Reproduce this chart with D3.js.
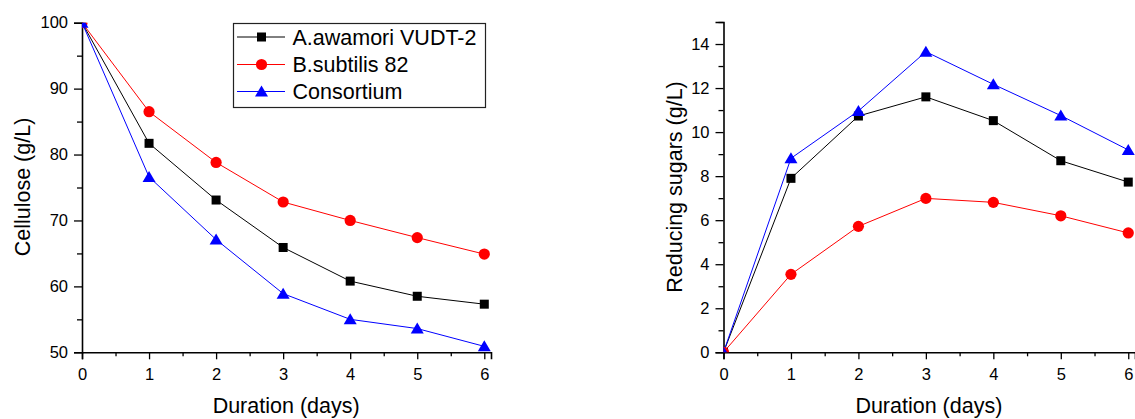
<!DOCTYPE html>
<html>
<head>
<meta charset="utf-8">
<script src="https://cdn.jsdelivr.net/npm/d3@7"></script>
<style>
	body { margin: 0; background: #fff; }
	svg { display: block; font-family: 'Liberation Sans', Arial, sans-serif; }
</style>
</head>
<body>
<svg id="chart" width="1135" height="419"></svg>
<script>
'use strict'

var days = [0, 1, 2, 3, 4, 5, 6];
var seriesNames = ['A.awamori VUDT-2', 'B.subtilis 82', 'Consortium'];
var seriesColors = ['#000000', '#ff0000', '#0000ff'];
var seriesShapes = ['square', 'circle', 'triangle'];

// cellulose (g/L)
var celluloseA = [100, 81.7, 73.1, 65.9, 60.8, 58.5, 57.3];
var celluloseB = [100, 86.5, 78.8, 72.8, 70.0, 67.4, 64.9];
var celluloseC = [100, 76.6, 67.1, 58.9, 55.0, 53.6, 50.9];

// reducing sugars (g/L)
var sugarsA = [0, 7.9, 10.73, 11.6, 10.52, 8.7, 7.73];
var sugarsB = [0, 3.54, 5.72, 6.99, 6.81, 6.2, 5.42];
var sugarsC = [0, 8.81, 10.96, 13.65, 12.17, 10.75, 9.19];

var xTicks = [0, 1, 2, 3, 4, 5, 6];
var xMinorTicks = [0.5, 1.5, 2.5, 3.5, 4.5, 5.5];
var celluloseTicks = [50, 60, 70, 80, 90, 100];
var celluloseMinor = [55, 65, 75, 85, 95];
var sugarsTicks = [0, 2, 4, 6, 8, 10, 12, 14];
var sugarsMinor = [1, 3, 5, 7, 9, 11, 13, 15];

var svg = d3.select('#chart');

function marker(g, shape, color, x, y){
	if(shape === 'square')
		g.append('rect').attr('x', x-4.5).attr('y', y-4.5)
			.attr('width', 9).attr('height', 9).attr('fill', color);
	else if(shape === 'circle')
		g.append('circle').attr('cx', x).attr('cy', y).attr('r', 5.6).attr('fill', color);
	else
		g.append('path')
			.attr('d', `M${x},${y-6}L${x+6.5},${y+5}L${x-6.5},${y+5}Z`)
			.attr('fill', color);
}

function drawPanel(opt){
	var x = d3.scaleLinear().domain([0, 6.1]).range([opt.left, opt.right]);
	var y = d3.scaleLinear().domain(opt.yDomain).range([352.3, opt.top]);

	var g = svg.append('g');

	// x axis
	var xa = g.append('g').attr('transform', 'translate(0,352.3)');
	xa.call(d3.axisBottom(x).tickValues(xTicks).tickSize(7).tickPadding(9).tickFormat(d3.format('d')));
	xa.append('g').call(d3.axisBottom(x).tickValues(xMinorTicks).tickSize(4).tickFormat(''))
		.select('.domain').remove();

	// y axis
	var ya = g.append('g').attr('transform', `translate(${opt.left},0)`);
	ya.call(d3.axisLeft(y).tickValues(opt.yTicks).tickSize(8).tickPadding(6).tickFormat(d3.format('d')));
	ya.append('g').call(d3.axisLeft(y).tickValues(opt.yMinor).tickSize(5).tickFormat(''))
		.select('.domain').remove();

	g.selectAll('.domain').attr('stroke', '#000').attr('stroke-width', 1.6);
	g.selectAll('.tick line').attr('stroke', '#000').attr('stroke-width', 1.3);
	g.selectAll('.tick text').attr('font-size', 16.5).attr('fill', '#000')
		.attr('font-family', "'Liberation Sans', Arial, sans-serif");

	// titles
	g.append('text')
		.attr('x', (opt.left + x(6)) / 2 + 3).attr('y', 413)
		.attr('text-anchor', 'middle').attr('font-size', 21.5)
		.text('Duration (days)');
	g.append('text')
		.attr('transform', `translate(${opt.titleX},187) rotate(-90)`)
		.attr('text-anchor', 'middle').attr('font-size', 21.5)
		.text(opt.yTitle);

	// clip markers to the frame (left / bottom)
	var clipId = 'clip' + opt.left;
	svg.append('clipPath').attr('id', clipId)
		.append('rect').attr('x', opt.left).attr('y', y(opt.yDomain[1]))
		.attr('width', 1135 - opt.left).attr('height', 352.3 - y(opt.yDomain[1]));

	var line = d3.line()
		.x(function(d, i){ return x(days[i]); })
		.y(function(d){ return y(d); });

	var plot = g.append('g').attr('clip-path', `url(#${clipId})`);
	opt.series.forEach(function(vals, s){
		plot.append('path')
			.attr('d', line(vals))
			.attr('fill', 'none')
			.attr('stroke', seriesColors[s])
			.attr('stroke-width', 1);
	});
	opt.series.forEach(function(vals, s){
		vals.forEach(function(v, i){
			marker(plot, seriesShapes[s], seriesColors[s], x(days[i]), y(v));
		});
	});
}

function drawLegend(){
	var g = svg.append('g');
	g.append('rect')
		.attr('x', 233.5).attr('y', 23.5).attr('width', 252).attr('height', 84)
		.attr('fill', '#fff').attr('stroke', '#222').attr('stroke-width', 1.2);
	var rows = [37, 64.5, 91.5];
	seriesNames.forEach(function(name, i){
		g.append('line')
			.attr('x1', 237).attr('x2', 285).attr('y1', rows[i]).attr('y2', rows[i])
			.attr('stroke', seriesColors[i]).attr('stroke-width', 1);
		marker(g, seriesShapes[i], seriesColors[i], 261.5, rows[i]);
		g.append('text')
			.attr('x', 292.5).attr('y', rows[i] + 7.5)
			.attr('font-size', 21.5)
			.text(name);
	});
}

drawPanel({
	left: 82, right: 491, top: 22.7,
	yDomain: [50, 100], yTicks: celluloseTicks, yMinor: celluloseMinor,
	yTitle: 'Cellulose (g/L)', titleX: 30,
	series: [celluloseA, celluloseB, celluloseC]
});

drawPanel({
	left: 723.5, right: 1135, top: 22,
	yDomain: [0, 15], yTicks: sugarsTicks, yMinor: sugarsMinor,
	yTitle: 'Reducing sugars (g/L)', titleX: 682,
	series: [sugarsA, sugarsB, sugarsC]
});

drawLegend();
</script>
</body>
</html>
